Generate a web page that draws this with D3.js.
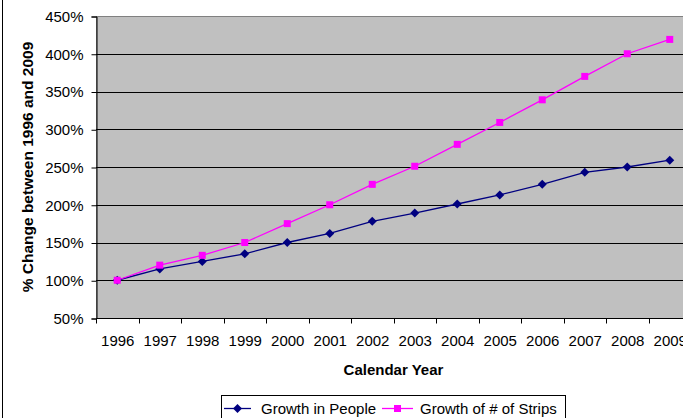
<!DOCTYPE html>
<html><head><meta charset="utf-8">
<script src="https://cdn.jsdelivr.net/npm/d3@7"></script>
<style>
html,body{margin:0;padding:0;background:#fff;overflow:hidden}
svg{display:block;font-family:"Liberation Sans",Arial,sans-serif}
</style></head><body>
<svg id="c" width="683" height="418"></svg>
<script>
const years = ["1996","1997","1998","1999","2000","2001","2002","2003","2004","2005","2006","2007","2008","2009"];
const growthPeople = [100,115,125,135,150,162,178,189,201,213,227,243,250,259];
const growthStrips = [100,120,133,150,175,200,227,251,280,309,339,370,400,419];
const yTicks = [50,100,150,200,250,300,350,400,450];
const seriesNames = ["Growth in People","Growth of # of Strips"];
const seriesColors = ["#000080","#FF00FF"];

const svg = d3.select("#c");
const L = 96, R = 691, T = 16, B = 318;
const x = d3.scaleBand().domain(years).range([L, R]);
const y = d3.scaleLinear().domain([50,450]).range([B, T]);

// outer chart border (left edge visible)
svg.append("line").attr("x1",2.5).attr("x2",2.5).attr("y1",0).attr("y2",418).attr("stroke","#000");

// plot area
svg.append("rect").attr("x",L).attr("y",T).attr("width",R-L).attr("height",B-T)
  .attr("fill","#C0C0C0").attr("stroke","#808080").attr("stroke-width",1)
  .attr("transform","translate(0.5,0.5)");

// gridlines
svg.append("g").selectAll("line").data(yTicks.filter(d=>d>50 && d<450)).join("line")
  .attr("x1",L).attr("x2",R)
  .attr("y1",d=>Math.round(y(d))+0.5).attr("y2",d=>Math.round(y(d))+0.5)
  .attr("stroke","#000").attr("stroke-width",1);

// y axis
const yAxis = d3.axisLeft(y).tickValues(yTicks).tickFormat(d=>d+"%").tickSize(5).tickPadding(8);
const gy = svg.append("g").attr("transform",`translate(${L+0.5},0.5)`).call(yAxis);
gy.select(".domain").attr("stroke","#000");
gy.selectAll(".tick line").attr("stroke","#000");
gy.selectAll("text").attr("font-size","15px").attr("fill","#000");

// x axis
const xAxis = d3.axisBottom(x).tickSize(0).tickPadding(17);
const gx = svg.append("g").attr("transform",`translate(0.5,${B+0.5})`).call(xAxis);
gx.select(".domain").attr("d",`M${L},0H${R}`).attr("stroke","#000");
gx.selectAll("text").attr("font-size","15px").attr("fill","#000");
// x ticks at category boundaries
gx.append("g").selectAll("line").data(years).join("line")
  .attr("x1",d=>Math.round(x(d))).attr("x2",d=>Math.round(x(d)))
  .attr("y1",0).attr("y2",5).attr("stroke","#000");

// axis titles
svg.append("text").attr("x",(L+R)/2).attr("y",375).attr("text-anchor","middle")
  .attr("font-size","15px").attr("font-weight","bold").text("Calendar Year");
svg.append("text").attr("transform",`translate(33,${(T+B)/2}) rotate(-90)`).attr("text-anchor","middle")
  .attr("font-size","15.5px").attr("font-weight","bold").text("% Change between 1996 and 2009");

// series
const cx = d => x(d) + x.bandwidth()/2;
const line = d3.line().x(d=>cx(d.year)).y(d=>y(d.v));
const data = [growthPeople, growthStrips].map(vals => years.map((yr,i)=>({year:yr, v:vals[i]})));

function marker(g, type, color){
  if(type===0){
    g.append("path").attr("d","M0,-4.5L4.5,0L0,4.5L-4.5,0Z").attr("fill",color);
  } else {
    g.append("rect").attr("x",-3.5).attr("y",-3.5).attr("width",7).attr("height",7).attr("fill",color);
  }
}

data.forEach((s,si)=>{
  svg.append("path").datum(s).attr("d",line).attr("fill","none")
    .attr("stroke",seriesColors[si]).attr("stroke-width",1.3);
});
data.forEach((s,si)=>{
  s.forEach(d=>{
    const g = svg.append("g").attr("transform",`translate(${cx(d.year)},${y(d.v)})`);
    marker(g, si, seriesColors[si]);
  });
});

// legend
const lg = svg.append("g");
lg.append("rect").attr("x",221.5).attr("y",395.5).attr("width",344).attr("height",30)
  .attr("fill","#fff").attr("stroke","#000");
const items = [{x0:224,x1:251,tx:261},{x0:382,x1:413,tx:420}];
items.forEach((it,i)=>{
  lg.append("line").attr("x1",it.x0).attr("x2",it.x1).attr("y1",408.5).attr("y2",408.5)
    .attr("stroke",seriesColors[i]).attr("stroke-width",1.3);
  const g = lg.append("g").attr("transform",`translate(${(it.x0+it.x1)/2},408.5)`);
  marker(g, i, seriesColors[i]);
  lg.append("text").attr("x",it.tx).attr("y",414).attr("font-size","15px").text(seriesNames[i]);
});
</script>
</body></html>
